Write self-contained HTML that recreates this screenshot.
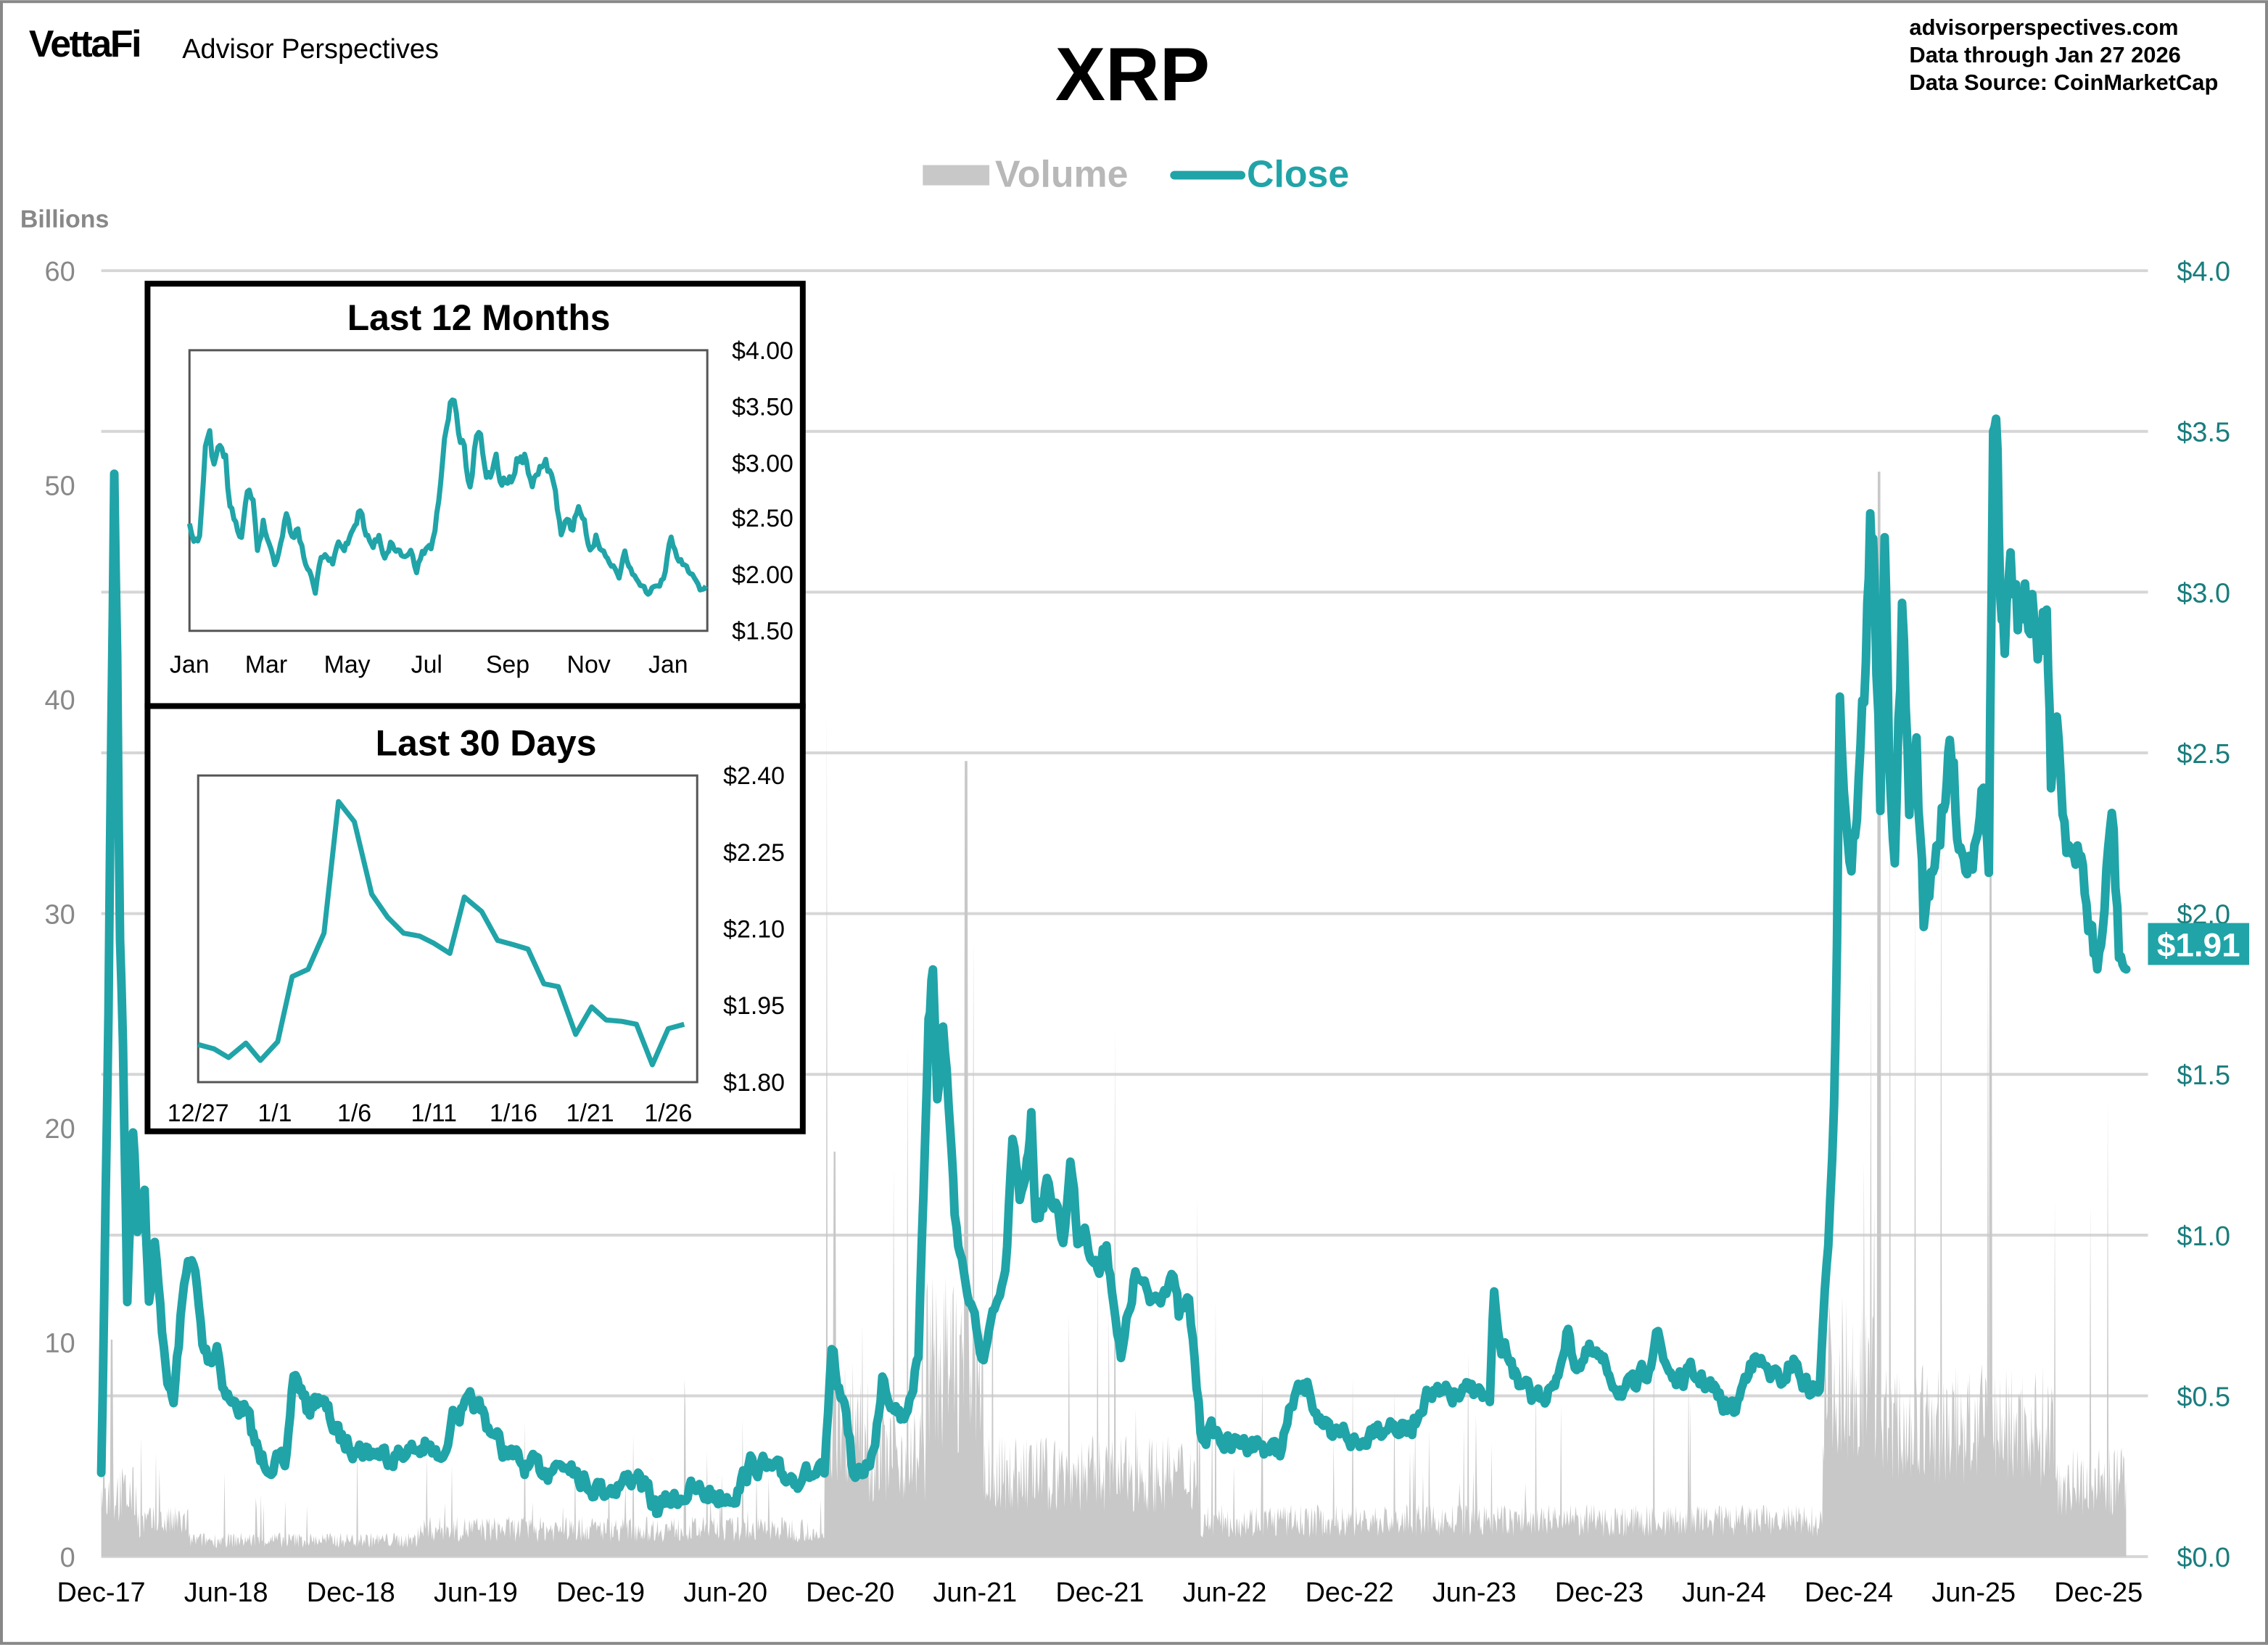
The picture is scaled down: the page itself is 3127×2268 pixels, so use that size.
<!DOCTYPE html>
<html><head><meta charset="utf-8"><style>
html,body{margin:0;padding:0;background:#fff}
svg{display:block}
text{font-family:"Liberation Sans",Arial,sans-serif}
</style></head><body>
<svg id="s" width="3127" height="2268" viewBox="0 0 1568 1137" xmlns="http://www.w3.org/2000/svg">
<rect x="1" y="1" width="1566" height="1135" fill="#fff" stroke="#888" stroke-width="2"/>
<text x="20" y="39" font-size="26" font-weight="bold" letter-spacing="-1.2">VettaFi</text>
<text x="126" y="40" font-size="19">Advisor Perspectives</text>
<text x="783" y="69" font-size="52" font-weight="bold" text-anchor="middle">XRP</text>
<g font-size="15.5" font-weight="bold">
<text x="1320" y="24">advisorperspectives.com</text>
<text x="1320" y="43">Data through  Jan 27 2026</text>
<text x="1320" y="62">Data Source:  CoinMarketCap</text>
</g>
<rect x="638" y="114" width="46" height="14" fill="#c8c8c8"/>
<text x="688" y="129" font-size="26" font-weight="bold" fill="#b8b8b8">Volume</text>
<line x1="812" y1="121" x2="858" y2="121" stroke="#20a4a8" stroke-width="6" stroke-linecap="round"/>
<text x="862" y="129" font-size="26" font-weight="bold" fill="#20a4a8">Close</text>
<text x="14" y="157" font-size="17" font-weight="bold" fill="#888">Billions</text>
<g id="grid" stroke="#d6d6d6" stroke-width="2"></g>
<g id="laxis" font-size="19" fill="#888" text-anchor="end"></g>
<g id="raxis" font-size="19" fill="#1a7d7d"></g>
<path id="vol" fill="#c8c8c8"/>
<polyline id="close" fill="none" stroke="#20a4a8" stroke-width="6" stroke-linejoin="round" stroke-linecap="round"/>
<g id="xaxis" font-size="19" text-anchor="middle"></g>
<rect x="1485" y="638" width="70" height="29" fill="#20a4a8"/>
<text x="1520" y="661" font-size="23" font-weight="bold" fill="#fff" text-anchor="middle">$1.91</text>

<rect x="102" y="196" width="453" height="292" fill="#fff" stroke="#000" stroke-width="4"/>
<text x="331" y="228" font-size="25" font-weight="bold" text-anchor="middle">Last 12 Months</text>
<rect x="131" y="242" width="358" height="194" fill="#fff" stroke="#555" stroke-width="1.5"/>
<g font-size="17" fill="#000">
<text x="506" y="248">$4.00</text><text x="506" y="287">$3.50</text><text x="506" y="326">$3.00</text>
<text x="506" y="364">$2.50</text><text x="506" y="403">$2.00</text><text x="506" y="442">$1.50</text>
</g>
<g font-size="17" text-anchor="middle">
<text x="131" y="465">Jan</text><text x="184" y="465">Mar</text><text x="240" y="465">May</text><text x="295" y="465">Jul</text>
<text x="351" y="465">Sep</text><text x="407" y="465">Nov</text><text x="462" y="465">Jan</text>
</g>
<polyline id="p12" fill="none" stroke="#20a4a8" stroke-width="3.5" stroke-linejoin="round"/>

<rect x="102" y="488" width="453" height="294" fill="#fff" stroke="#000" stroke-width="4"/>
<text x="336" y="522" font-size="25" font-weight="bold" text-anchor="middle">Last 30 Days</text>
<rect x="137" y="536" width="345" height="212" fill="#fff" stroke="#555" stroke-width="1.5"/>
<g font-size="17">
<text x="500" y="542">$2.40</text><text x="500" y="595">$2.25</text><text x="500" y="648">$2.10</text>
<text x="500" y="701">$1.95</text><text x="500" y="754">$1.80</text>
</g>
<g font-size="17" text-anchor="middle">
<text x="137" y="775">12/27</text><text x="190" y="775">1/1</text><text x="245" y="775">1/6</text><text x="300" y="775">1/11</text>
<text x="355" y="775">1/16</text><text x="408" y="775">1/21</text><text x="462" y="775">1/26</text>
</g>
<polyline fill="none" stroke="#20a4a8" stroke-width="3.5" stroke-linejoin="round" points="137,722 148,725 158,731 170,721 180,733 192,720 202,675 213,670 224,645 234,554 245,568 257,618 268,634 279,645 290,647 300,652 311,659 321,620 333,630 344,650 355,653 365,656 376,680 386,682 398,715 409,696 419,705 430,706 440,708 451,736 462,711 473,708"/>
</svg>
<script>
var NS="http://www.w3.org/2000/svg";
function el(p,t,a,txt){var e=document.createElementNS(NS,t);for(var k in a)e.setAttribute(k,a[k]);if(txt!==undefined)e.textContent=txt;document.getElementById(p).appendChild(e);return e;}
for(var i=0;i<=8;i++){var y=1076-i*111.125;
 el("grid","line",{x1:70,x2:1485,y1:y,y2:y});
 el("raxis","text",{x:1505,y:y+7},"$"+(i*0.5).toFixed(1));}
for(var i=0;i<=6;i++){var y=1076-i*148.17;el("laxis","text",{x:52,y:y+7},String(i*10));}
var xl=["Dec-17","Jun-18","Dec-18","Jun-19","Dec-19","Jun-20","Dec-20","Jun-21","Dec-21","Jun-22","Dec-22","Jun-23","Dec-23","Jun-24","Dec-24","Jun-25","Dec-25"];
for(var i=0;i<xl.length;i++)el("xaxis","text",{x:70+i*86.3,y:1107},xl[i]);
var seed=7;function rnd(){seed=(seed*16807)%2147483647;return seed/2147483647;}
function noisy(str,step,amp,lo){
 var p=str.trim().split(/\s+/).map(function(s){return s.split(",").map(Number);});
 var out=[],prev=0;
 for(var i=0;i<p.length-1;i++){
  var a=p[i],b=p[i+1],n=Math.max(1,Math.round((b[0]-a[0])/step));
  for(var k=0;k<n;k++){var t=k/n,x=a[0]+(b[0]-a[0])*t,y=a[1]+(b[1]-a[1])*t;
   var mag=amp*Math.max(0.25,(lo-y)/(lo-300));
   prev=prev*0.5+(rnd()-0.5)*mag; if(k==0)prev*=0.3;
   out.push(x.toFixed(1)+","+(y+prev).toFixed(1));}
 }
 var l=p[p.length-1];out.push(l[0]+","+l[1]);return out.join(" ");}
var pts="70,1020 72,900 75,700 77,500 79,325 81,450 83,650 85,720 88,900 92,780 95,850 100,820 103,900 107,860 112,920 117,960 120,970 126,900 130,870 135,880 140,930 145,940 150,930 155,960 160,970 170,975 180,1010 190,1010 197,1015 203,950 207,960 212,975 220,965 228,980 235,995 245,1000 260,1005 280,1005 295,1000 305,1010 312,980 320,975 330,970 340,990 350,1005 365,1015 380,1015 395,1010 405,1025 420,1030 440,1020 455,1045 465,1035 480,1030 500,1035 510,1030 520,1010 530,1015 540,1020 555,1020 570,1020 575,935 580,960 585,975 590,1020 595,1020 605,1000 610,950 617,970 625,980 635,940 642,700 645,670 648,760 652,710 657,780 660,840 665,870 670,900 675,920 680,940 690,900 695,880 700,790 705,830 710,800 713,770 716,840 720,830 725,820 730,830 735,860 740,800 745,860 750,850 760,880 765,860 770,900 775,940 785,880 795,900 805,890 810,880 815,910 822,900 826,940 830,990 840,990 850,1000 860,995 875,1000 885,1005 895,965 905,960 910,975 920,995 930,990 940,1000 950,985 960,985 975,990 985,965 995,965 1010,965 1020,960 1030,970 1033,895 1037,930 1045,940 1050,960 1060,965 1075,960 1083,920 1090,945 1100,935 1110,945 1120,960 1130,960 1140,945 1145,920 1150,940 1160,955 1170,950 1180,955 1190,970 1200,975 1210,940 1220,945 1230,955 1240,940 1250,960 1258,960 1264,860 1268,760 1270,650 1272,480 1276,560 1280,600 1285,540 1290,460 1293,350 1296,400 1300,560 1303,380 1306,520 1310,600 1315,420 1320,560 1325,510 1330,640 1335,600 1340,580 1345,560 1348,510 1352,560 1360,600 1365,580 1370,540 1375,600 1378,300 1380,290 1383,420 1386,460 1390,380 1395,440 1400,400 1405,410 1410,440 1415,420 1418,550 1422,490 1426,560 1430,580 1435,600 1440,600 1445,640 1450,670 1455,630 1460,560 1465,660 1470,670";
document.getElementById("close").setAttribute("points",noisy(pts,1.2,50,1076));
var p12="131,362 134,375 138,370 142,310 145,298 148,320 152,310 156,315 159,350 163,360 167,370 171,340 175,345 178,380 182,360 186,375 190,390 194,375 198,355 202,370 206,365 210,385 214,395 218,410 222,385 226,385 230,390 234,375 238,380 244,365 249,352 253,370 258,378 262,370 266,385 270,375 275,380 280,385 284,380 288,395 292,380 298,380 302,355 306,320 310,290 314,278 317,300 321,310 325,335 328,310 331,300 335,320 339,330 343,315 347,335 351,335 356,325 360,315 364,320 368,335 372,330 376,320 380,325 384,340 388,370 392,360 396,365 400,350 404,360 408,380 412,370 416,380 420,385 424,390 428,400 432,382 436,392 440,400 444,405 448,410 452,405 456,405 460,395 464,372 468,385 472,390 476,395 480,400 484,408 488,405";
document.getElementById("p12").setAttribute("points",noisy(p12,1.3,14,436));
function env(x){
 var h=14;
 if(x<95)h=45; else if(x<130)h=25;
 if(x>130&&x<290)h=12;
 if(x>290&&x<560)h=20;
 if(x>570&&x<600)h=100;
 if(x>600&&x<640)h=75;
 if(x>640&&x<680)h=140;
 if(x>680&&x<830)h=60;
 if(x>830&&x<1260)h=26;
 if(x>1260&&x<1300)h=130;
 if(x>1300&&x<1420)h=95;
 if(x>=1420)h=55;
 return h;}
var d="M70,1076";
for(var x=70;x<=1470;x+=0.6){
 var h=env(x)*(0.5+rnd()*0.9);
 if(rnd()<0.04)h*=2+rnd()*3;
 if(x>576&&x<578)h=280; if(x>667&&x<669)h=550; if(x>1298&&x<1300)h=750;
 if(x>1375&&x<1377)h=550;if(x>76&&x<78)h=150;
 d+=" L"+x.toFixed(1)+","+(1076-h).toFixed(1);}
d+=" L1470,1076 Z";
document.getElementById("vol").setAttribute("d",d);
</script>
</body></html>
